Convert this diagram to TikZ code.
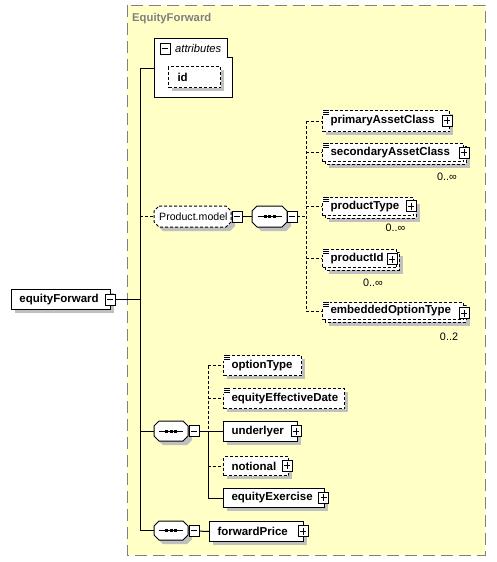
\documentclass[tikz,border=0pt]{standalone}
\usepackage{fontspec}
\setmainfont{Liberation Sans}
\usetikzlibrary{calc}
\definecolor{ybg}{RGB}{255,255,198}
\definecolor{bordergray}{RGB}{128,128,128}
\definecolor{shadowc}{RGB}{192,192,192}
\pgfdeclarelayer{bglayer}
\pgfdeclarelayer{connlayer}
\pgfsetlayers{bglayer,connlayer,main}
\newcommand{\pmbox}[3]{%
  \filldraw[fill=white, draw=black, solid, line width=1pt] (#1-5,#2-5.5) rectangle (#1+5,#2+5.5);
  \draw[solid, line width=0.9pt] (#1-3,#2) -- (#1+3,#2);
  \ifnum#3=1 \draw[solid, line width=0.9pt] (#1,#2-3.5) -- (#1,#2+3.5);\fi
}
\newcommand{\chamf}[5]{%
  \path[#5] (#1+5,#2) -- (#3-5,#2) -- (#3,#2+5) -- (#3,#4-5) -- (#3-5,#4) -- (#1+5,#4) -- (#1,#4-5) -- (#1,#2+5) -- cycle;}
\newcommand{\seqicon}[2]{%
  \draw[line width=1pt] (#1-12,#2) -- (#1+12,#2);
  \foreach \d in {-4.5,0,4.5} \fill (#1+\d-1.5,#2-1.5) rectangle (#1+\d+1.5,#2+1.5);}
\newcommand{\optico}[2]{%
  \fill[white] (#1-0.5,#2-0.5) rectangle (#1+7.5,#2+6);
  \draw[line width=0.7pt] (#1+1,#2+0.5) -- (#1+7,#2+0.5) (#1+1,#2+2.5) -- (#1+7,#2+2.5) (#1+1,#2+4.5) -- (#1+7,#2+4.5);}
\tikzset{
  elem/.style={draw, fill=white, anchor=north west, inner xsep=8pt, inner ysep=0pt, align=left,
    font=\fontsize{11.5}{13}\selectfont\bfseries, line width=1pt},
  opt/.style={dash pattern=on 3pt off 2pt},
  conn/.style={line width=1pt},
  dconn/.style={line width=1pt, dash pattern=on 3pt off 2pt},
  occ/.style={font=\fontsize{10.8}{12}\selectfont, inner sep=0pt},
  seqnode/.style={anchor=north west, inner sep=0pt},
}
\begin{document}
\begin{tikzpicture}[x=1pt,y=-1pt]
\useasboundingbox (0,0) rectangle (496,562);
\begin{pgfonlayer}{bglayer}
  \fill[white] (0,0) rectangle (496,562);
  \filldraw[fill=ybg, draw=bordergray, line width=1pt, dash pattern=on 12pt off 6pt] (127,5) rectangle (485,555);
\end{pgfonlayer}

\node[anchor=west, inner sep=0pt, text=bordergray, font=\fontsize{11.3}{13}\selectfont\bfseries] (title) at (132,19) {EquityForward};

% attributes
\filldraw[fill=white, line width=1pt] (154,38) -- (227,38) -- (227,57) -- (232,57) -- (232,97) -- (154,97) -- cycle;
\node[anchor=north west, inner sep=0pt, minimum width=78pt, minimum height=59pt] (attr) at (154,38) {};
\pmbox{165}{48.5}{0}
\node[anchor=west, inner sep=0pt, font=\fontsize{11.2}{13}\selectfont\itshape] (attrlbl) at (175,48.5) {attributes};
\fill[shadowc] (172,70) rectangle (224,91);
\node[elem, opt, inner xsep=9pt, text width=34pt, minimum height=21pt] (id) at (168,66) {id};

% equityForward
\fill[shadowc] (15,293) rectangle (114,313);
\node[elem, text width=83pt, minimum height=20pt] (ef) at (11,289) {equityForward};
\pmbox{110}{299.5}{0}

% Product.model
\chamf{158}{210}{235}{231}{fill=shadowc}
\chamf{154}{206}{231}{227}{fill=white, draw=black, line width=1pt, dash pattern=on 3pt off 2pt}
\node[anchor=north west, inner xsep=5pt, inner ysep=0pt, minimum height=21pt, text width=67pt, align=left,
  font=\fontsize{10.6}{12}\selectfont] (pm) at (154,206) {Product.model};
\pmbox{237}{216.5}{0}

% sequence 1
\chamf{256}{210}{291}{231}{fill=shadowc}
\chamf{252}{206}{287}{227}{fill=white, draw=black, line width=1pt}
\node[seqnode, minimum width=35pt, minimum height=21pt] (seqa) at (252,206) {};
\seqicon{269.5}{216.5}
\pmbox{292}{216.5}{0}

% primaryAssetClass
\fill[shadowc] (326,114) rectangle (453,135);
\node[elem, opt, text width=111pt, minimum height=21pt] (pac) at (322,110) {primaryAssetClass};
\optico{322}{110}
\pmbox{447}{120.5}{1}

% secondaryAssetClass
\fill[shadowc] (329,150) rectangle (470,168);
\filldraw[fill=white, line width=1pt, opt] (325,146) rectangle (466,164);
\node[elem, opt, text width=125pt, minimum height=18pt] (sac) at (322,143) {secondaryAssetClass};
\optico{322}{143}
\pmbox{464}{152.5}{1}
\node[occ] (sacocc) at (447,177) {0..∞};

% productType
\fill[shadowc] (329,204) rectangle (420,222);
\filldraw[fill=white, line width=1pt, opt] (325,200) rectangle (416,218);
\node[elem, opt, text width=75pt, minimum height=18pt] (pt) at (322,197) {productType};
\optico{322}{197}
\pmbox{411}{206}{1}
\node[occ] (ptocc) at (395.5,228) {0..∞};

% productId
\fill[shadowc] (329,256) rectangle (403,274);
\filldraw[fill=white, line width=1pt, opt] (325,252) rectangle (399,270);
\node[elem, opt, text width=58pt, minimum height=18pt] (pid) at (322,249) {productId};
\optico{322}{249}
\pmbox{392}{259}{1}
\node[occ] (pidocc) at (373,283) {0..∞};

% embeddedOptionType
\fill[shadowc] (329,309) rectangle (470,326);
\filldraw[fill=white, line width=1pt, opt] (325,305) rectangle (466,322);
\node[elem, opt, text width=125pt, minimum height=17pt] (eot) at (322,302) {embeddedOptionType};
\optico{322}{302}
\pmbox{464}{313}{1}
\node[occ] (eotocc) at (449,337) {0..2};

% sequence 2
\chamf{158}{425}{192}{445}{fill=shadowc}
\chamf{154}{421}{188}{441}{fill=white, draw=black, line width=1pt}
\node[seqnode, minimum width=34pt, minimum height=20pt] (seqb) at (154,421) {};
\seqicon{171}{431}
\pmbox{194}{431}{0}

\fill[shadowc] (227,359) rectangle (305,379);
\node[elem, opt, text width=62pt, minimum height=20pt] (ot) at (223,355) {optionType};
\optico{223}{355}

\fill[shadowc] (227,392) rectangle (348,412);
\node[elem, opt, text width=105pt, minimum height=20pt] (eed) at (223,388) {equityEffectiveDate};
\optico{223}{388}

\fill[shadowc] (227,425) rectangle (301,445);
\node[elem, text width=58pt, minimum height=20pt] (und) at (223,421) {underlyer};
\pmbox{296}{431}{1}

\fill[shadowc] (227,460) rectangle (292,479);
\node[elem, opt, text width=49pt, minimum height=19pt] (not) at (223,456) {notional};
\pmbox{287}{465.5}{1}

\fill[shadowc] (227,492) rectangle (328,511);
\node[elem, text width=85pt, minimum height=19pt] (eex) at (223,488) {equityExercise};
\pmbox{323.5}{497.5}{1}

% sequence 3
\chamf{158}{525}{192}{544}{fill=shadowc}
\chamf{154}{521}{188}{540}{fill=white, draw=black, line width=1pt}
\node[seqnode, minimum width=34pt, minimum height=19pt] (seqc) at (154,521) {};
\seqicon{171}{530.5}
\pmbox{194}{530.5}{0}

\fill[shadowc] (213,525) rectangle (307,545);
\node[elem, text width=78pt, minimum height=20pt] (fp) at (209,521) {forwardPrice};
\pmbox{303}{531}{1}

% connectors
\begin{pgfonlayer}{connlayer}
  \coordinate (attrIn) at (154,68);
  \coordinate (va) at (140,68);
  \draw[conn] (attrIn) -- (va) -- (va |- seqc.west) -- (seqc.west);
  \draw[conn] (ef.east) -- (va |- ef.east);
  \draw[dconn] (va |- pm.west) -- (pm.west);
  \draw[conn] (va |- seqb.west) -- (seqb.west);
  \draw[conn] (pm.east) -- (seqa.west);
  \coordinate (vb) at (306,120.5);
  \draw[dconn] (seqa.east) -- (vb |- seqa.east);
  \draw[dconn] (vb |- pac.west) -- (vb |- eot.west);
  \foreach \n in {pac,sac,pt,pid,eot} \draw[dconn] (vb |- \n.west) -- (\n.west);
  \coordinate (vc) at (208,365);
  \draw[conn] (seqb.east) -- (vc |- seqb.east);
  \draw[dconn] (vc |- ot.west) -- (vc |- seqb.east);
  \draw[conn] (vc |- seqb.east) -- (vc |- eex.west);
  \foreach \n in {ot,eed,not} \draw[dconn] (vc |- \n.west) -- (\n.west);
  \foreach \n in {und,eex} \draw[conn] (vc |- \n.west) -- (\n.west);
  \draw[conn] (seqc.east) -- (fp.west);
\end{pgfonlayer}
\end{tikzpicture}
\end{document}
